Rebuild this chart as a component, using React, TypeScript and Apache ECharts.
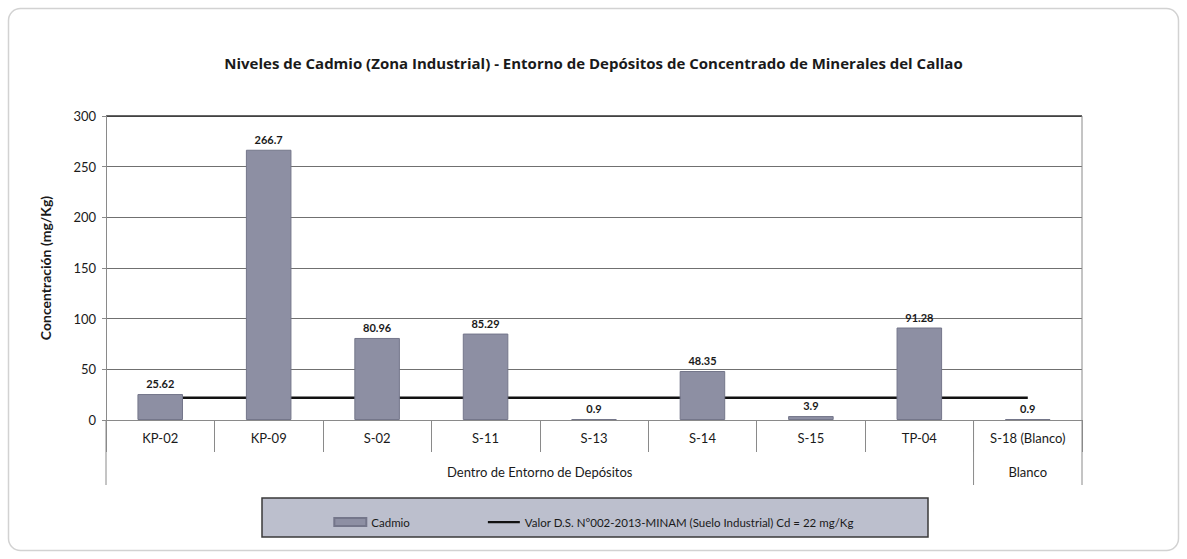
import React, { useEffect, useRef } from "react";
import * as echarts from "echarts";

const title =
  "Niveles de Cadmio (Zona Industrial) - Entorno de Depósitos de Concentrado de Minerales del Callao";
const categories = ["KP-02", "KP-09", "S-02", "S-11", "S-13", "S-14", "S-15", "TP-04", "S-18 (Blanco)"];
const cadmio = [25.62, 266.7, 80.96, 85.29, 0.9, 48.35, 3.9, 91.28, 0.9];
const limite = [22, 22, 22, 22, 22, 22, 22, 22, 22];
const groupNames = ["Dentro de Entorno de Depósitos", "Blanco"];
const groupFrom = [0, 8];
const groupTo = [7, 8];
const yMin = 0;
const yMax = 300;
const yInterval = 50;
const yName = "Concentración (mg/Kg)";
const seriesNames = ["Cadmio", "Valor D.S. N°002-2013-MINAM (Suelo Industrial) Cd = 22 mg/Kg"];

const FONT = "Lato, 'Liberation Sans', sans-serif";
const LINE_ICON = "path://M0,0h0.01v0.01h-0.01z M0,2.9h32v2.4h-32z M0,8h0.01v0.01h-0.01z";

export default function App() {
  const ref = useRef<HTMLDivElement>(null);
  useEffect(() => {
    if (!ref.current) return;
    const chart = echarts.init(ref.current, null, { renderer: "svg" });
    chart.setOption({
      animation: false,
      backgroundColor: "#ffffff",
      textStyle: { fontFamily: FONT },
      title: {
        text: title,
        left: "center",
        top: 50,
        textStyle: { fontFamily: "'Open Sans', sans-serif", fontSize: 15, fontWeight: "bold", color: "#1a1a1a" },
      },
      grid: { left: 106, right: 105, top: 116, bottom: 139, containLabel: false },
      legend: {
        left: "center",
        top: 511,
        itemWidth: 32,
        itemHeight: 8,
        itemGap: 78,
        z: 10,
        textStyle: { fontFamily: FONT, fontSize: 11.5, color: "#1a1a1a" },
        data: [
          { name: seriesNames[0], icon: "rect" },
          { name: seriesNames[1], icon: LINE_ICON, itemStyle: { color: "#111111" } },
        ],
      },
      xAxis: {
        type: "category",
        data: categories,
        axisLine: { lineStyle: { color: "#8a8a8a", width: 1 } },
        axisTick: { show: true, interval: 0, length: 32, lineStyle: { color: "#8a8a8a" } },
        axisLabel: { interval: 0, margin: 11, fontSize: 13, color: "#1a1a1a", fontFamily: FONT },
      },
      yAxis: {
        type: "value",
        min: yMin,
        max: yMax,
        interval: yInterval,
        name: yName,
        nameLocation: "middle",
        nameGap: 54,
        nameTextStyle: { fontFamily: FONT, fontSize: 14, fontWeight: "bold", color: "#1a1a1a" },
        axisLine: { show: true, lineStyle: { color: "#8a8a8a" } },
        axisTick: { show: true, length: 4, lineStyle: { color: "#8a8a8a" } },
        axisLabel: { fontSize: 13, color: "#1a1a1a", margin: 10, fontFamily: FONT },
        splitLine: { lineStyle: { color: "#707070", width: 1 } },
      },
      series: [
        {
          name: seriesNames[0],
          type: "bar",
          data: cadmio,
          barWidth: "42%",
          itemStyle: { color: "#8d8fa3", borderColor: "#74768a", borderWidth: 1 },
          label: {
            show: true,
            position: "top",
            distance: 5,
            fontSize: 11,
            fontWeight: "bold",
            color: "#1a1a1a",
            fontFamily: FONT,
          },
          z: 3,
        },
        {
          name: seriesNames[1],
          type: "line",
          data: limite,
          symbol: "none",
          lineStyle: { color: "#111111", width: 2.5 },
          z: 2,
        },
      ],
    });

    const c0 = chart.convertToPixel({ xAxisIndex: 0 }, categories[0]) as number;
    const c1 = chart.convertToPixel({ xAxisIndex: 0 }, categories[1]) as number;
    const band = c1 - c0;
    const yTop = chart.convertToPixel({ yAxisIndex: 0 }, yMax) as number;
    const yBase = chart.convertToPixel({ yAxisIndex: 0 }, yMin) as number;
    const edge = (i: number) => c0 + (i - 0.5) * band;
    const bottom2 = yBase + 65;
    const lineStyle = { stroke: "#8a8a8a", lineWidth: 1 };

    const graphics: any[] = [
      {
        type: "rect",
        z: -10,
        shape: { x: 8.5, y: 8.5, width: 1170, height: 542, r: 12 },
        style: { fill: "none", stroke: "#d2d2d2", lineWidth: 1.5 },
      },
      {
        type: "line",
        shape: { x1: edge(0), y1: yTop, x2: edge(categories.length), y2: yTop },
        style: { stroke: "#333", lineWidth: 1.5 },
      },
      {
        type: "line",
        shape: { x1: edge(categories.length), y1: yTop, x2: edge(categories.length), y2: bottom2 },
        style: lineStyle,
      },
      {
        type: "line",
        shape: { x1: edge(0), y1: yBase, x2: edge(0), y2: bottom2 },
        style: lineStyle,
      },
      {
        type: "rect",
        z: 0,
        shape: { x: 262, y: 498, width: 666, height: 39 },
        style: { fill: "#bcbfcd", stroke: "#3a3a3a", lineWidth: 1.5 },
      },
    ];
    groupFrom.forEach((f, gi) => {
      if (f > 0) {
        graphics.push({
          type: "line",
          shape: { x1: edge(f), y1: yBase, x2: edge(f), y2: bottom2 },
          style: lineStyle,
        });
      }
      const cx = (edge(f) + edge(groupTo[gi] + 1)) / 2;
      graphics.push({
        type: "text",
        x: cx,
        y: yBase + 52,
        style: {
          text: groupNames[gi],
          fontFamily: FONT,
          fontSize: 13,
          fill: "#1a1a1a",
          align: "center",
          verticalAlign: "middle",
        },
      });
    });
    chart.setOption({ graphic: graphics });

    return () => chart.dispose();
  }, []);

  return (
    <div
      ref={ref}
      style={{ position: "fixed", left: 0, top: 0, width: 1187, height: 559 }}
    />
  );
}
